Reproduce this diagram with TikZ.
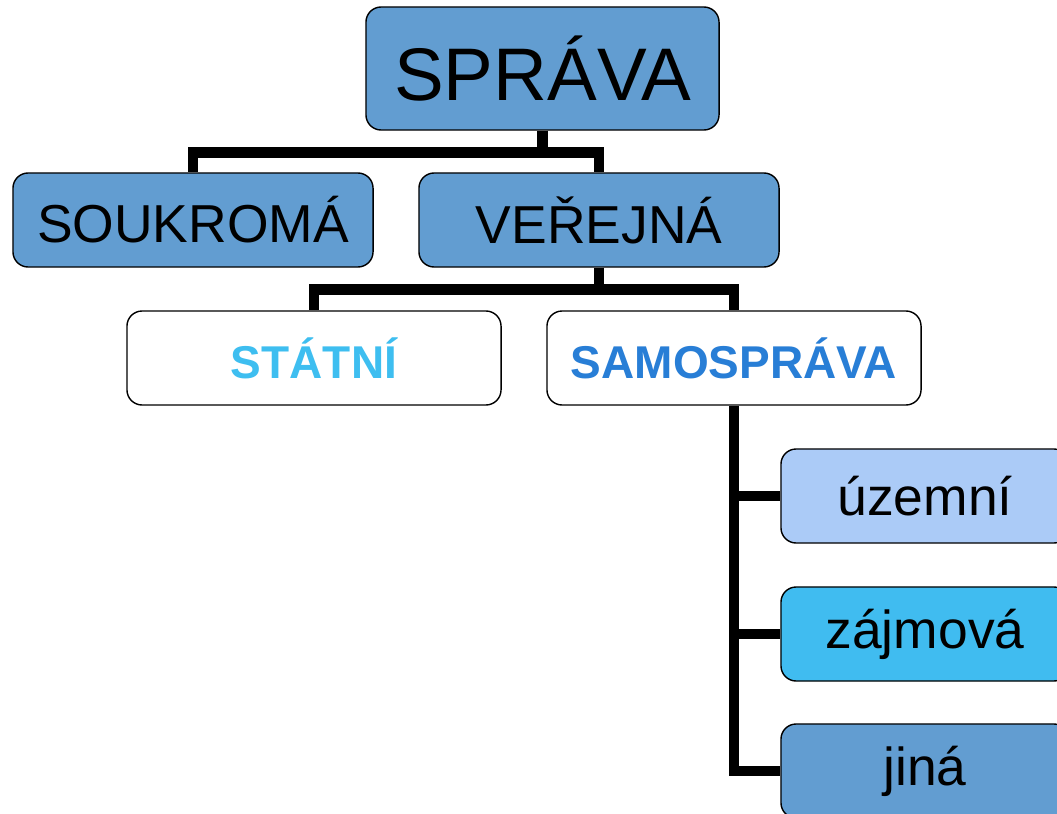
\documentclass[tikz,border=0pt]{standalone}
\usepackage{fontspec}
\setmainfont{Liberation Sans}
\usetikzlibrary{positioning}
\definecolor{boxblue}{RGB}{98,157,209}
\definecolor{paleblue}{RGB}{171,203,247}
\definecolor{skyblue}{RGB}{64,188,240}
\definecolor{statcol}{RGB}{62,190,240}
\definecolor{samocol}{RGB}{40,126,214}
\begin{document}
\begin{tikzpicture}[x=0.025cm,y=-0.025cm,
	box/.style={draw, line width=1pt, rounded corners=0.38cm, minimum height=2.35cm, inner sep=0pt, font=\fontsize{38}{40}\selectfont},
	link/.style={line width=7.8pt, line join=miter}]
	\useasboundingbox (0,0) rectangle (1057,814);
	\clip (0,0) rectangle (1057,814);
	\node(sprava)  [box, fill=boxblue, minimum width=8.825cm, minimum height=3.075cm, font=\fontsize{53}{56}\selectfont] at (542.5,68.5)  {SPRÁVA};
	\node(soukroma)  [box, fill=boxblue, minimum width=9cm] at (193,220)  {SOUKROMÁ};
	\node(verejna)  [box, fill=boxblue, minimum width=9cm] at (599,220)  {VEŘEJNÁ};
	\node(statni)  [box, fill=white, minimum width=9.35cm, text=statcol, font=\fontsize{32.7}{35}\selectfont\bfseries] at (314,358)  {STÁTNÍ};
	\node(samosprava)  [box, fill=white, minimum width=9.35cm, text=samocol, font=\fontsize{32.7}{35}\selectfont\bfseries] at (734,358)  {SAMOSPRÁVA};
	\node(uzemni)  [box, fill=paleblue, minimum width=7.2cm] at (925,496)  {územní};
	\node(zajmova)  [box, fill=skyblue, minimum width=7.2cm] at (925,634)  {zájmová};
	\node(jina)  [box, fill=boxblue, minimum width=7.2cm] at (925,771)  {jiná};
	
	\draw[link] (sprava.south) -- ++(0,21.5) -| (soukroma.north);
	\draw[link] (sprava.south) -- ++(0,21.5) -| (verejna.north);
	\draw[link] (verejna.south) -- ++(0,22) -| (statni.north);
	\draw[link] (verejna.south) -- ++(0,22) -| (samosprava.north);
	
	\draw[link] (samosprava.south) |- (jina.west);
	\draw[link] (samosprava.south |- uzemni.west) -- (uzemni.west);
	\draw[link] (samosprava.south |- zajmova.west) -- (zajmova.west);
\end{tikzpicture}
\end{document}
